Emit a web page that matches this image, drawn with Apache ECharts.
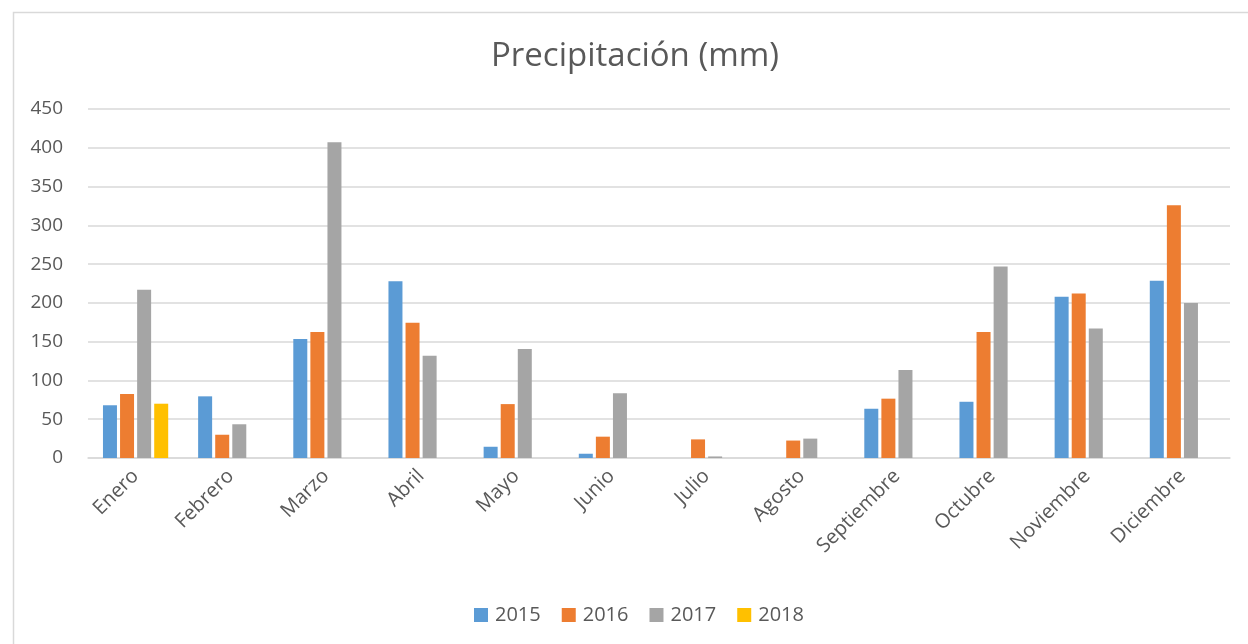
<!DOCTYPE html>
<html lang="es">
<head>
    <meta charset="UTF-8">
    <title>Precipitación (mm)</title>
    <script src="https://cdn.jsdelivr.net/npm/echarts@6/dist/echarts.min.js"></script>
    <style>
        html, body { margin: 0; padding: 0; background: #fff; }
        #main { width: 1248px; height: 644px; }
    </style>
</head>
<body>
<div id="main"></div>
<script type="text/javascript">
    // datos
    var meses = ['Enero', 'Febrero', 'Marzo', 'Abril', 'Mayo', 'Junio', 'Julio',
        'Agosto', 'Septiembre', 'Octubre', 'Noviembre', 'Diciembre'];
    var anios = ['2015', '2016', '2017', '2018'];
    var lluvia2015 = [68, 79.5, 153.5, 228, 14.5, 5.5, null, null, 63.5, 72.5, 208, 228.5];
    var lluvia2016 = [82.5, 30, 162.5, 174.5, 69.5, 27.5, 24, 22.5, 76.5, 162.5, 212, 326];
    var lluvia2017 = [217, 43.5, 407, 132, 140.5, 83.5, 2, 25, 113.5, 247, 167, 200];
    var lluvia2018 = [70, null, null, null, null, null, null, null, null, null, null, null];
    var yTicks = [0, 50, 100, 150, 200, 250, 300, 350, 400, 450];

    var colores = ['#5b9bd5', '#ed7d31', '#a5a5a5', '#ffc000'];
    var datos = [lluvia2015, lluvia2016, lluvia2017, lluvia2018];

    var myChart = echarts.init(document.getElementById('main'));

    var series = [];
    for (var i = 0; i < anios.length; i++) {
        series.push({
            name: anios[i],
            type: 'bar',
            data: datos[i],
            barWidth: 14,
            barGap: '22%',
            itemStyle: {color: colores[i]}
        });
    }

    var option = {
        backgroundColor: '#fff',
        animation: false,
        color: colores,
        textStyle: {fontFamily: 'Open Sans, Noto Sans, sans-serif'},
        graphic: [{
            type: 'rect',
            left: 11,
            top: 10,
            shape: {width: 1400, height: 800},
            style: {fill: 'none', stroke: '#d9d9d9', lineWidth: 1.5},
            z: -1
        }],
        title: {
            text: 'Precipitación (mm)',
            left: 486,
            top: 35,
            textStyle: {color: '#595959', fontSize: 33, fontWeight: 'normal'}
        },
        legend: {
            data: anios,
            bottom: 14,
            left: 469,
            itemWidth: 14,
            itemHeight: 14,
            itemGap: 21,
            icon: 'rect',
            textStyle: {color: '#595959', fontSize: 20, padding: [0, 0, 0, 2]}
        },
        grid: {
            left: 88,
            right: 18,
            top: 109,
            bottom: 186,
            containLabel: false
        },
        xAxis: {
            type: 'category',
            data: meses,
            axisLine: {lineStyle: {color: '#d9d9d9', width: 1.5}},
            axisTick: {show: false},
            axisLabel: {
                rotate: 45,
                color: '#595959',
                fontSize: 20,
                margin: 15,
                interval: 0
            }
        },
        yAxis: {
            type: 'value',
            min: yTicks[0],
            max: yTicks[yTicks.length - 1],
            interval: 50,
            axisLine: {show: false},
            axisTick: {show: false},
            axisLabel: {color: '#595959', fontSize: 19, margin: 25, align: 'right'},
            splitLine: {lineStyle: {color: '#d9d9d9', width: 1.5}}
        },
        series: series
    };
    myChart.setOption(option);
</script>
</body>
</html>
